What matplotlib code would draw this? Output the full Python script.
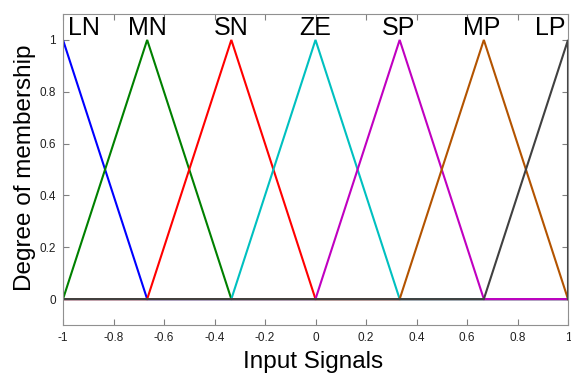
import matplotlib
matplotlib.use("Agg")
import matplotlib.pyplot as plt
import numpy as np

names = ["LN", "MN", "SN", "ZE", "SP", "MP", "LP"]
centers = [-1.0, -2/3, -1/3, 0.0, 1/3, 2/3, 1.0]
half_width = 1/3
colors = ["#0000ff", "#008000", "#ff0000", "#00c0c0", "#c000c0", "#b35300", "#404040"]
label_x = [-0.917, -0.667, -0.335, 0.0, 0.33, 0.66, 0.93]
xticks = [-1, -0.8, -0.6, -0.4, -0.2, 0, 0.2, 0.4, 0.6, 0.8, 1]
xticklabels = ["-1", "-0.8", "-0.6", "-0.4", "-0.2", "0", "0.2", "0.4", "0.6", "0.8", "1"]
yticks = [0, 0.2, 0.4, 0.6, 0.8, 1]
yticklabels = ["0", "0.2", "0.4", "0.6", "0.8", "1"]

plt.rcParams['font.family'] = ['Liberation Sans', 'DejaVu Sans']

fig = plt.figure(figsize=(5.71, 3.74), dpi=100)
ax = fig.add_axes([63/571, 1-325/374, (568-63)/571, (325-14)/374])

for c, col in zip(centers, colors):
    xs = [-1.0, c - half_width, c, c + half_width, 1.0]
    ys = [0, 0, 1, 0, 0]
    xs = np.clip(xs, -1, 1)
    ax.plot(xs, ys, color=col, lw=1.5, solid_joinstyle='miter')

for n, lx in zip(names, label_x):
    ax.text(lx, 1.045, n, ha='center', va='center', fontsize=18, color='black')

ax.set_xlim(-1, 1)
ax.set_ylim(-0.1, 1.1)
ax.set_xticks(xticks)
ax.set_xticklabels(xticklabels)
ax.set_yticks(yticks)
ax.set_yticklabels(yticklabels)
ax.tick_params(direction='in', top=True, right=True, labelsize=8.5, colors='#808080',
               labelcolor='#202020', length=4, width=0.8, pad=5)
for s in ax.spines.values():
    s.set_color('#909090')
    s.set_linewidth(0.8)
ax.set_xlabel("Input Signals", fontsize=17.5)
ax.set_ylabel("Degree of membership", fontsize=17.5)
ax.xaxis.set_label_coords(0.496, -0.082)
ax.yaxis.set_label_coords(-0.054, 0.506)

fig.savefig("out.png", dpi=100)
